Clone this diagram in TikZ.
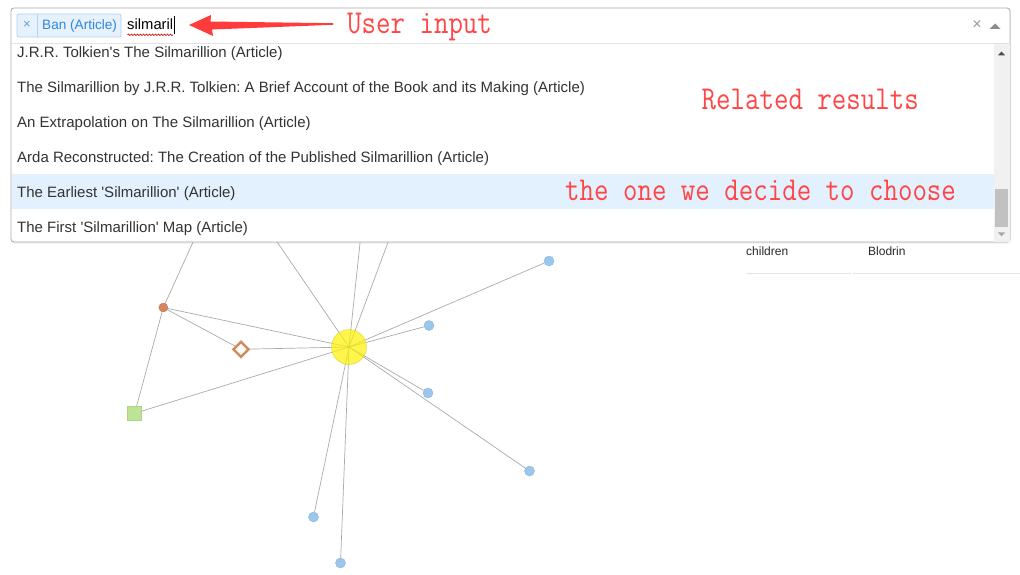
\documentclass[tikz,border=0pt]{standalone}
\usepackage{fontspec}
\setmainfont{Liberation Sans}
\usetikzlibrary{shapes.geometric,backgrounds,decorations.pathmorphing}
\frenchspacing
\newcommand{\sq}{\textquotesingle}
\definecolor{edgegray}{HTML}{ABABAB}
\definecolor{boxgray}{HTML}{AAAAAA}
\definecolor{sepgray}{HTML}{E3E3E3}
\definecolor{txtgray}{HTML}{333333}
\definecolor{hlblue}{HTML}{E3F0FD}
\definecolor{tagfill}{HTML}{E6F1FC}
\definecolor{tagborder}{HTML}{AFD3F3}
\definecolor{tagtext}{HTML}{2C87DE}
\definecolor{annred}{HTML}{FF4545}
\definecolor{arrred}{HTML}{FF3B3B}
\definecolor{dotblue}{HTML}{9CC7EA}
\definecolor{dotblueb}{HTML}{86B6DE}
\definecolor{brown}{HTML}{D4875A}
\definecolor{diabrown}{HTML}{D38B5E}
\definecolor{grfill}{HTML}{BDE396}
\definecolor{grdraw}{HTML}{A9D585}
\definecolor{sbtrack}{HTML}{F1F1F1}
\definecolor{sbthumb}{HTML}{C1C1C1}
\definecolor{tblline}{HTML}{E5E5E5}
\tikzset{
  edge/.style={draw=edgegray, line width=0.7pt},
  bdot/.style={circle, fill=dotblue, draw=dotblueb, line width=0.4pt, minimum size=10pt, inner sep=0pt},
  brdot/.style={circle, fill=brown, draw=brown!85!black, line width=0.3pt, minimum size=9pt, inner sep=0pt},
  yel/.style={circle, fill=yellow, fill opacity=0.7, draw=yellow!80!black, draw opacity=0.6, line width=0.6pt, minimum size=35pt, inner sep=0pt},
  dia/.style={diamond, aspect=1, draw=diabrown, line width=2.5pt, fill=white, minimum size=16pt, inner sep=0pt},
  grsq/.style={rectangle, fill=grfill, draw=grdraw, line width=0.5pt, minimum size=14pt, inner sep=0pt},
  rowtxt/.style={anchor=base west, inner sep=0pt, text=txtgray, font=\fontsize{15}{18}\selectfont},
  ann/.style={anchor=base west, inner sep=0pt, text=annred, font=\ttfamily\fontsize{28.1}{30}\selectfont},
  tbltxt/.style={anchor=base west, inner sep=0pt, text=txtgray!80!black, font=\fontsize{12}{14}\selectfont},
}
\begin{document}
\begin{tikzpicture}[x=1pt,y=-1pt]
\useasboundingbox (0,0) rectangle (1020,575);
% ---------- graph nodes ----------
\node[yel] (c) at (349,347) {};
\node[bdot] (b1) at (549,261) {};
\node[bdot] (b2) at (429,325.5) {};
\node[bdot] (b3) at (428,393) {};
\node[bdot] (b4) at (529.5,471) {};
\node[bdot] (b5) at (313.5,517) {};
\node[bdot] (b6) at (340.5,563) {};
\node[brdot] (br) at (163.3,307.5) {};
\node[dia] (dm) at (241,349.3) {};
\node[grsq] (gr) at (134.7,413.3) {};
\coordinate (u1) at (198.5,230);
\coordinate (u2) at (268.9,230);
\coordinate (u3) at (361.4,230);
\coordinate (u4) at (392.6,230);
\begin{scope}[on background layer]
  \fill[white] (0,0) rectangle (1020,575);
  \draw[edge] (c.center) -- (b1);
  \draw[edge] (c.center) -- (b2);
  \draw[edge] (c.center) -- (b3);
  \draw[edge] (c.center) -- (b4);
  \draw[edge] (c.center) -- (b5);
  \draw[edge] (c.center) -- (b6);
  \draw[edge] (c.center) -- (br.center);
  \draw[edge] (c.center) -- (dm.center);
  \draw[edge] (c.center) -- (gr.center);
  \draw[edge] (br.center) -- (dm.center);
  \draw[edge] (br.center) -- (gr.center);
  \draw[edge] (br.center) -- (u1);
  \draw[edge] (c.center) -- (u2);
  \draw[edge] (c.center) -- (u3);
  \draw[edge] (c.center) -- (u4);
\end{scope}
% ---------- table below ----------
\node[tbltxt] (t1) at (746,255) {children};
\node[tbltxt] (t2) at (868,255) {Blodrin};
\draw[tblline, line width=1pt] (746,273.5) -- (851,273.5);
\draw[tblline, line width=1pt] (853,273.5) -- (1020,273.5);
% ---------- select box ----------
\fill[black, opacity=0.06, rounded corners=3pt] (11,9) rectangle (1011,243.5);
\draw[boxgray, fill=white, line width=0.8pt, rounded corners=3pt] (11,8) rectangle (1010,242);
\fill[hlblue] (12,174) rectangle (993.5,209);
\draw[sepgray, line width=1pt] (11.5,43.5) -- (1009.5,43.5);
% scrollbar
\fill[sbtrack] (993.5,44) rectangle (1009.5,241.5);
\fill[sbthumb] (995,189) rectangle (1008,227);
\fill[black!70] (997.8,55.5) -- (1005.2,55.5) -- (1001.5,51.5) -- cycle;
\fill[black!35] (997.8,232.3) -- (1005.2,232.3) -- (1001.5,236.3) -- cycle;
% header right
\node[inner sep=0pt, text=black!40, font=\fontsize{16}{18}\selectfont] (hx) at (977,25) {×};
\fill[black!45] (989.5,29) -- (1000.5,29) -- (995,23.5) -- cycle;
% tag
\draw[tagborder, fill=tagfill, line width=0.8pt, rounded corners=2pt] (17,14) rectangle (121,37);
\draw[tagborder, line width=0.8pt] (37,14) -- (37,37);
\node[inner sep=0pt, text=tagtext!80, font=\fontsize{13}{15}\selectfont] (tx) at (27,24.5) {×};
\node[anchor=base west, inner sep=0pt, text=tagtext, font=\fontsize{13.6}{16}\selectfont] (tag) at (42,30) {Ban (Article)};
\node[anchor=base west, inner sep=0pt, text=black, font=\fontsize{14.8}{17}\selectfont] (inp) at (127,30) {silmaril};
\draw[black, line width=0.9pt] (174,16.5) -- (174,34);
\draw[red!85!black, line width=0.6pt, decorate, decoration={snake, amplitude=0.8pt, segment length=3pt}] (127.5,34.8) -- (173,34.8);
% list rows
\node[rowtxt] (r1) at (17,57.5) {J.R.R. Tolkien\sq s The Silmarillion (Article)};
\node[rowtxt] (r2) at (17,92.5) {The Silmarillion by J.R.R. Tolkien: A Brief Account of the Book and its Making (Article)};
\node[rowtxt] (r3) at (17,127.5) {An Extrapolation on The Silmarillion (Article)};
\node[rowtxt] (r4) at (17,162.7) {Arda Reconstructed: The Creation of the Published Silmarillion (Article)};
\node[rowtxt] (r5) at (17,197.8) {The Earliest \sq Silmarillion\sq{} (Article)};
\node[rowtxt] (r6) at (17,232.8) {The First \sq Silmarillion\sq{} Map (Article)};
% ---------- annotations ----------
\fill[arrred] (189,25) -- (211,15) -- (210.5,21.5) -- (333,23.2) -- (333,24.8) -- (212,29.5) -- (213,36) -- cycle;
\node[ann] (a1) at (347,33.3) {\scalebox{1}[1.19]{User input}};
\node[ann] (a2) at (701.5,109.3) {\scalebox{1}[1.19]{Related results}};
\node[ann] (a3) at (565,200.7) {\scalebox{1}[1.19]{the one we decide to choose}};
\end{tikzpicture}
\end{document}
